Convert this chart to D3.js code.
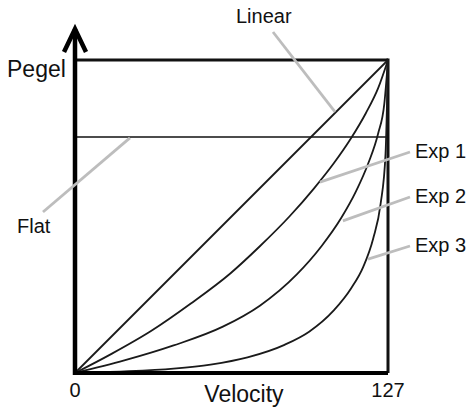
<!DOCTYPE html>
<html>
<head>
<meta charset="utf-8">
<script src="https://cdn.jsdelivr.net/npm/d3@7"></script>
<style>
  body { margin: 0; background: #fff; }
  svg { display: block; font-family: "Liberation Sans", Arial, sans-serif; }
</style>
</head>
<body>
<div id="chart"></div>
<script>
// velocity (0..127) against level (0..1)
const linearVel = [0, 127];
const linearLevel = [0, 1];

const flatVel = [0, 127];
const flatLevel = [0.754, 0.754];

const exp1Vel = [0, 15, 31, 47, 63, 75, 87, 97, 105, 112, 118, 123, 127];
const exp1Level = [0, 0.062, 0.135, 0.222, 0.318, 0.405, 0.5, 0.59, 0.67, 0.75, 0.83, 0.91, 1];

const exp2Vel = [0, 20, 40, 60, 75, 90, 100, 108, 114, 119, 123, 125.5, 127];
const exp2Level = [0, 0.04, 0.088, 0.148, 0.215, 0.315, 0.405, 0.495, 0.58, 0.67, 0.765, 0.86, 1];

const exp3Vel = [0, 20, 40, 55, 70, 85, 95, 105, 112, 117, 121, 124, 126, 127];
const exp3Level = [0, 0.005, 0.014, 0.027, 0.05, 0.09, 0.132, 0.2, 0.27, 0.34, 0.43, 0.54, 0.7, 1];

const axisLabels = { x: 'Velocity', y: 'Pegel' };
const xTickLabels = ['0', '127'];
const xTickValues = [0, 127];

// curve name, where its leader line touches (velocity, level)
const curveNames = ['Linear', 'Flat', 'Exp 1', 'Exp 2', 'Exp 3'];
const leaderVel = [105.5, 22.3, 99.4, 108.7, 118.9];
const leaderLevel = [0.834, 0.751, 0.61, 0.486, 0.364];

const width = 470, height = 407;
const box = { left: 75, right: 388, top: 60, bottom: 373 };

const svg = d3.select('#chart').append('svg')
    .attr('width', width)
    .attr('height', height);

const x = d3.scaleLinear().domain([0, 127]).range([box.left, box.right]);
const y = d3.scaleLinear().domain([0, 1]).range([box.bottom, box.top]);

const line = d3.line()
    .x(d => x(d[0]))
    .y(d => y(d[1]))
    .curve(d3.curveMonotoneX);

const zip = (a, b) => a.map((v, i) => [v, b[i]]);

// frame: top and right thinner, left/bottom are the axes
svg.append('line')
    .attr('x1', x(0)).attr('x2', x(127))
    .attr('y1', y(1)).attr('y2', y(1))
    .attr('stroke', '#111').attr('stroke-width', 3);
svg.append('line')
    .attr('x1', x(127)).attr('x2', x(127))
    .attr('y1', y(1) - 1.5).attr('y2', y(0))
    .attr('stroke', '#111').attr('stroke-width', 3);

// flat
svg.append('path')
    .datum(zip(flatVel, flatLevel))
    .attr('fill', 'none')
    .attr('stroke', '#111')
    .attr('stroke-width', 1.5)
    .attr('d', line);

// curves
[[linearVel, linearLevel], [exp1Vel, exp1Level], [exp2Vel, exp2Level], [exp3Vel, exp3Level]]
    .forEach(([vx, vy]) => {
        svg.append('path')
            .datum(zip(vx, vy))
            .attr('fill', 'none')
            .attr('stroke', '#1a1a1a')
            .attr('stroke-width', 1.8)
            .attr('d', line);
    });

// axes
svg.append('line')
    .attr('x1', x(0) - 2).attr('x2', x(127))
    .attr('y1', y(0)).attr('y2', y(0))
    .attr('stroke', '#000').attr('stroke-width', 4);
svg.append('line')
    .attr('x1', x(0)).attr('x2', x(0))
    .attr('y1', y(0) + 2).attr('y2', 29)
    .attr('stroke', '#000').attr('stroke-width', 4.5);
svg.append('path')
    .attr('d', `M${x(0) - 11},52 L${x(0)},29 L${x(0) + 11},52`)
    .attr('fill', 'none')
    .attr('stroke', '#000')
    .attr('stroke-width', 4.5)
    .attr('stroke-linejoin', 'miter');

// labels with grey leader lines
const labelPos = [
    { tx: 236, ty: 23, lx: 273, ly: 32 },
    { tx: 17, ty: 233, lx: 43, ly: 212 },
    { tx: 415, ty: 158, lx: 410, ly: 152 },
    { tx: 415, ty: 203, lx: 410, ly: 197 },
    { tx: 415, ty: 252, lx: 410, ly: 246 }
];

curveNames.forEach((name, i) => {
    const p = labelPos[i];
    svg.append('line')
        .attr('x1', p.lx).attr('y1', p.ly)
        .attr('x2', x(leaderVel[i])).attr('y2', y(leaderLevel[i]))
        .attr('stroke', '#bdbdbd')
        .attr('stroke-width', 2.8);
    svg.append('text')
        .attr('x', p.tx).attr('y', p.ty)
        .style('font-size', '20px')
        .attr('fill', '#111')
        .text(name);
});

// tick labels and axis titles
svg.selectAll('.tick-label')
    .data(xTickValues)
    .enter().append('text')
    .attr('class', 'tick-label')
    .attr('x', d => x(d))
    .attr('y', 397)
    .attr('text-anchor', 'middle')
    .style('font-size', '20px')
    .attr('fill', '#111')
    .text((d, i) => xTickLabels[i]);

svg.append('text')
    .attr('x', 244).attr('y', 402)
    .attr('text-anchor', 'middle')
    .style('font-size', '23px')
    .attr('fill', '#111')
    .text(axisLabels.x);

svg.append('text')
    .attr('x', 7).attr('y', 77)
    .style('font-size', '23px')
    .attr('fill', '#111')
    .text(axisLabels.y);
</script>
</body>
</html>
